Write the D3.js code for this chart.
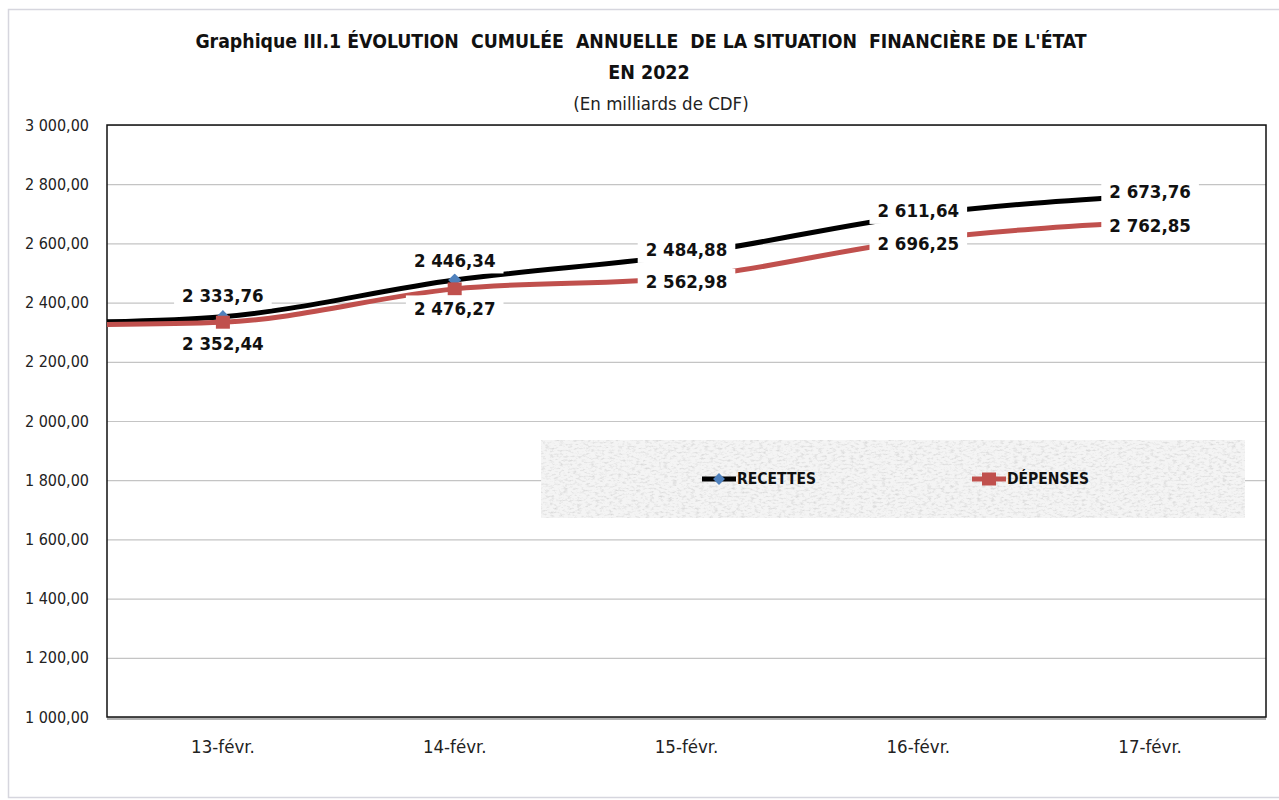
<!DOCTYPE html>
<html>
<head>
<meta charset="utf-8">
<script src="https://cdnjs.cloudflare.com/ajax/libs/d3/7.8.5/d3.min.js"></script>
<style>
  body { margin: 0; background: #fff; }
  svg { display: block; }
</style>
</head>
<body>
<div id="chart"></div>
<script>
// data
var categories = ["13-févr.", "14-févr.", "15-févr.", "16-févr.", "17-févr."];
var recettes = [2333.76, 2446.34, 2484.88, 2611.64, 2673.76];
var depenses = [2352.44, 2476.27, 2562.98, 2696.25, 2762.85];
var yTicks = [1000, 1200, 1400, 1600, 1800, 2000, 2200, 2400, 2600, 2800, 3000];
// in the original the black curve follows the DÉPENSES figures and the red one
// the RECETTES figures, while the labels are the other way round
var blackValues = depenses, blackLabels = recettes;
var redValues = recettes, redLabels = depenses;
// level where each curve meets the value axis
var blackEdge = 2335, redEdge = 2326;

var FONT = "'Liberation Sans Narrow', 'Arial Narrow', 'DejaVu Sans Condensed', sans-serif";

var W = 1279, H = 800;
var margin = {top: 125, right: 13, bottom: 83, left: 107},
    width = W - margin.left - margin.right,
    height = H - margin.top - margin.bottom;

var fr = d3.formatLocale({decimal: ",", thousands: " ", grouping: [3], currency: ["", ""]});
var fmt = fr.format(",.2f");

var svg = d3.select("#chart").append("svg")
    .attr("width", W)
    .attr("height", H);

// speckled grey texture for the legend
var defs = svg.append("defs");
var filt = defs.append("filter").attr("id", "marble")
    .attr("x", 0).attr("y", 0).attr("width", 1).attr("height", 1);
filt.append("feTurbulence").attr("type", "fractalNoise")
    .attr("baseFrequency", "0.22 0.5").attr("numOctaves", 4).attr("seed", 7);
filt.append("feColorMatrix").attr("type", "matrix")
    .attr("values", "0 0 0 0 0.6  0 0 0 0 0.6  0 0 0 0 0.6  0 0 0 -1.6 0.85");
filt.append("feComposite").attr("in2", "SourceGraphic").attr("operator", "in");

// outer frame
svg.append("rect")
    .attr("x", 8.5).attr("y", 9.5)
    .attr("width", W + 20).attr("height", 788)
    .attr("fill", "none").attr("stroke", "#d6d6de").attr("stroke-width", 1.5);

// titles
svg.append("text")
    .attr("x", 641).attr("y", 48)
    .attr("text-anchor", "middle")
    .style("white-space", "pre")
    .style("font-family", FONT).style("font-size", "19.3px").style("font-weight", "bold")
    .attr("fill", "#111")
    .text("Graphique III.1 ÉVOLUTION  CUMULÉE  ANNUELLE  DE LA SITUATION  FINANCIÈRE DE L'ÉTAT");
svg.append("text")
    .attr("x", 649).attr("y", 79)
    .attr("text-anchor", "middle")
    .style("font-family", FONT).style("font-size", "19.5px").style("font-weight", "bold")
    .attr("fill", "#111")
    .text("EN 2022");
svg.append("text")
    .attr("x", 661).attr("y", 110)
    .attr("text-anchor", "middle")
    .style("font-family", FONT).style("font-size", "18.5px")
    .attr("fill", "#222")
    .text("(En milliards de CDF)");

var g = svg.append("g")
    .attr("transform", "translate(" + margin.left + "," + margin.top + ")");

// scales
var x = d3.scaleBand().domain(categories).range([0, width]);
var y = d3.scaleLinear().domain([1000, 3000]).range([height, 0]);
var cx = function(i) { return x(categories[i]) + x.bandwidth() / 2; };

// gridlines
g.append("g")
    .call(d3.axisLeft(y).tickValues(yTicks).tickSize(-width).tickFormat(""))
    .call(function(s) {
      s.select(".domain").remove();
      s.selectAll("line").attr("stroke", "#c4c4c4").attr("stroke-width", 1.2);
    });

// y axis labels
g.append("g")
    .call(d3.axisLeft(y).tickValues(yTicks).tickSize(0).tickPadding(18).tickFormat(fmt))
    .call(function(s) {
      s.select(".domain").remove();
      s.selectAll("text").style("font-family", FONT).style("font-size", "16px").attr("fill", "#222");
    });

// x axis labels
g.append("g")
    .attr("transform", "translate(0," + height + ")")
    .call(d3.axisBottom(x).tickSize(0).tickPadding(23))
    .call(function(s) {
      s.select(".domain").remove();
      s.selectAll("text").style("font-family", FONT).style("font-size", "18.5px").attr("fill", "#222");
    });

// plot border
g.append("rect")
    .attr("width", width).attr("height", height)
    .attr("fill", "none").attr("stroke", "#111").attr("stroke-width", 1.5);
g.append("line")
    .attr("x1", 0).attr("x2", width).attr("y1", height + 2).attr("y2", height + 2)
    .attr("stroke", "#999").attr("stroke-width", 1.5);

// lines
function pts(vals, edge) {
  var p = [[0, y(edge)]];
  vals.forEach(function(v, i) { p.push([cx(i), y(v)]); });
  return p;
}
var line = d3.line().curve(d3.curveMonotoneX);

g.append("path").datum(pts(blackValues, blackEdge))
    .attr("d", line).attr("fill", "none")
    .attr("stroke", "#000").attr("stroke-width", 5);
g.append("path").datum(pts(redValues, redEdge))
    .attr("d", line).attr("fill", "none")
    .attr("stroke", "#c0504d").attr("stroke-width", 5);

// markers
g.selectAll(".diam").data(blackValues).enter().append("path")
    .attr("class", "diam")
    .attr("d", d3.symbol().type(d3.symbolDiamond2).size(110))
    .attr("transform", function(d, i) { return "translate(" + cx(i) + "," + y(d) + ")"; })
    .attr("fill", "#4f81bd");
g.selectAll(".sq").data(redValues).enter().append("rect")
    .attr("class", "sq")
    .attr("x", function(d, i) { return cx(i) - 7; })
    .attr("y", function(d) { return y(d) - 6.5; })
    .attr("width", 14).attr("height", 13)
    .attr("fill", "#c0504d");

// data labels on white boxes, pushed apart where the curves are close
function addLabel(xp, yp, txt) {
  var lg = g.append("g");
  var t = lg.append("text")
      .attr("x", xp).attr("y", yp).attr("dy", "0.35em")
      .attr("text-anchor", "middle")
      .style("font-family", FONT).style("font-size", "18.5px").style("font-weight", "bold")
      .attr("fill", "#111")
      .text(fmt(txt));
  var bb = t.node().getBBox();
  lg.insert("rect", "text")
      .attr("x", bb.x - 8).attr("y", yp - 13)
      .attr("width", bb.width + 16).attr("height", 26)
      .attr("fill", "#fff");
}
categories.forEach(function(c, i) {
  var yb = y(blackValues[i]), yr = y(redValues[i]);
  var gap = yr - yb, mid = (yb + yr) / 2;
  var sep = gap < 12 ? 48 : Math.max(gap + 8, 32);
  addLabel(cx(i), mid - sep / 2, blackLabels[i]);
  addLabel(cx(i), mid + sep / 2, redLabels[i]);
});

// legend
var lgd = svg.append("g").attr("transform", "translate(541,440)");
lgd.append("rect").attr("width", 704).attr("height", 78).attr("fill", "#f4f4f4");
lgd.append("rect").attr("width", 704).attr("height", 78).attr("fill", "#fff")
    .attr("filter", "url(#marble)");
var items = [
  {name: "RECETTES", color: "#000", marker: "diamond", x: 161},
  {name: "DÉPENSES", color: "#c0504d", marker: "square", x: 431}
];
items.forEach(function(it) {
  var e = lgd.append("g").attr("transform", "translate(" + it.x + ",39)");
  e.append("line").attr("x1", 0).attr("x2", 34)
      .attr("stroke", it.color).attr("stroke-width", 5);
  if (it.marker === "diamond") {
    e.append("path").attr("d", d3.symbol().type(d3.symbolDiamond2).size(90))
        .attr("transform", "translate(17,0)").attr("fill", "#4f81bd");
  } else {
    e.append("rect").attr("x", 10).attr("y", -6.5).attr("width", 14).attr("height", 13)
        .attr("fill", "#c0504d");
  }
  e.append("text").attr("x", 35).attr("dy", "0.35em")
      .style("font-family", FONT).style("font-size", "15.5px").style("font-weight", "bold")
      .attr("fill", "#111")
      .text(it.name);
});
</script>
</body>
</html>
